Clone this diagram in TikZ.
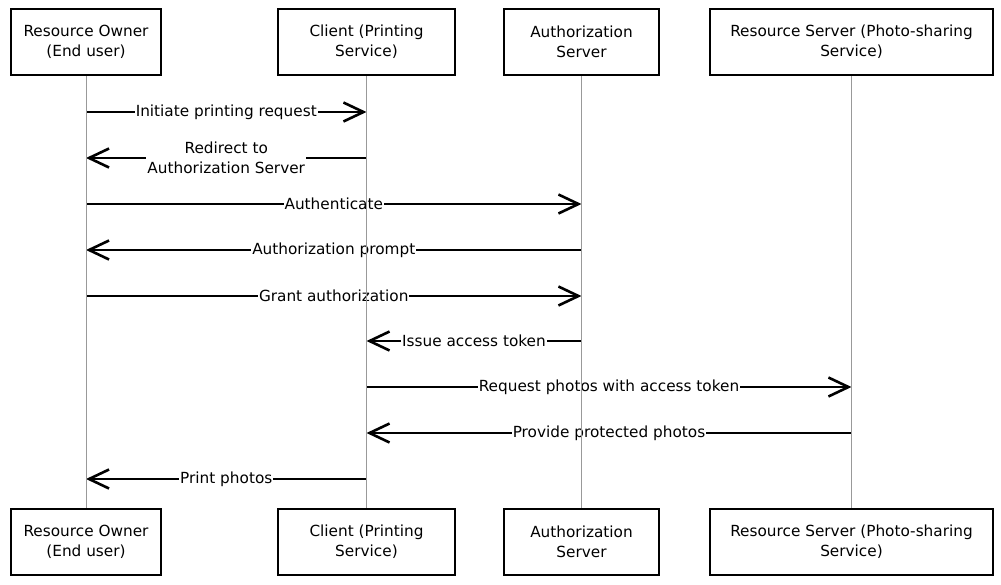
\documentclass[tikz,border=0pt]{standalone}
\usepackage{fontspec}
\setmainfont{DejaVu Sans}
\usetikzlibrary{arrows.meta}

\begin{document}
\begin{tikzpicture}[x=1pt,y=-1pt,
  msg/.style={line width=2.8pt,-{Straight Barb[length=20pt,width=19pt,line width=2.6pt]}}]

    % `party' is used for the boxes at both ends of a lifeline.
    % `lifeline' is used for the thin vertical lines.
    % `msglabel' is the text that sits on a message.
    \tikzstyle{party} = [draw,line width=2.2pt,fill=white,align=center,
      minimum height=66pt,inner sep=0pt,font=\fontsize{15.3}{20}\selectfont]
    \tikzstyle{lifeline} = [draw=black!40,line width=0.9pt]
    \tikzstyle{msglabel} = [fill=white,inner sep=1pt,align=center,
      font=\fontsize{15.3}{20}\selectfont]
    %
    \useasboundingbox (0,0) rectangle (1001,584);

    % Top row.
    \node[party,minimum width=150pt] (ownerT) at (86,42) {Resource Owner\\(End user)};
    \node[party,minimum width=177pt] (clientT) at (366.5,42) {Client (Printing\\Service)};
    \node[party,minimum width=155pt] (authT) at (581.5,42) {Authorization\\Server};
    \node[party,minimum width=283pt] (rsT) at (851.5,42) {Resource Server (Photo-sharing\\Service)};

    % Bottom row.
    \node[party,minimum width=150pt] (ownerB) at (86,542) {Resource Owner\\(End user)};
    \node[party,minimum width=177pt] (clientB) at (366.5,542) {Client (Printing\\Service)};
    \node[party,minimum width=155pt] (authB) at (581.5,542) {Authorization\\Server};
    \node[party,minimum width=283pt] (rsB) at (851.5,542) {Resource Server (Photo-sharing\\Service)};

    % Messages.
    \draw[msg] (ownerT.south |- 0,112) -- node[msglabel] (m1) {Initiate printing request} (clientT.south |- 0,112);
    \draw[msg] (clientT.south |- 0,158) -- node[msglabel] (m2) {Redirect to\\Authorization Server} (ownerT.south |- 0,158);
    \draw[msg] (ownerT.south |- 0,204) -- node[msglabel] (m3) {Authenticate} (authT.south |- 0,204);
    \draw[msg] (authT.south |- 0,250) -- node[msglabel] (m4) {Authorization prompt} (ownerT.south |- 0,250);
    \draw[msg] (ownerT.south |- 0,296) -- node[msglabel] (m5) {Grant authorization} (authT.south |- 0,296);
    \draw[msg] (authT.south |- 0,341) -- node[msglabel] (m6) {Issue access token} (clientT.south |- 0,341);
    \draw[msg] (clientT.south |- 0,387) -- node[msglabel] (m7) {Request photos with access token} (rsT.south |- 0,387);
    \draw[msg] (rsT.south |- 0,433) -- node[msglabel] (m8) {Provide protected photos} (clientT.south |- 0,433);
    \draw[msg] (clientT.south |- 0,479) -- node[msglabel] (m9) {Print photos} (ownerT.south |- 0,479);

    % Draw lifelines.
    \draw[lifeline] (ownerT) -- (ownerB) (clientT) -- (clientB)
      (authT) -- (authB) (rsT) -- (rsB);
    \end{tikzpicture}
\end{document}
